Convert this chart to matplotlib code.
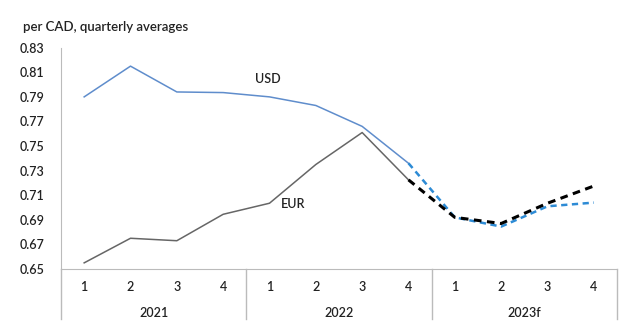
import numpy as np
import matplotlib.pyplot as plt
from matplotlib.transforms import blended_transform_factory

plt.rcParams['font.family'] = ['Lato', 'DejaVu Sans']

quarters = ['1', '2', '3', '4'] * 3
years = ['2021', '2022', '2023f']

usd_hist = [0.790, 0.815, 0.794, 0.7935, 0.790, 0.783, 0.766, 0.736]
eur_hist = [0.655, 0.675, 0.673, 0.6945, 0.7035, 0.735, 0.761, 0.7225]
usd_fcst = [0.736, 0.692, 0.6845, 0.701, 0.704]
eur_fcst = [0.7225, 0.692, 0.687, 0.7035, 0.7175]

x_hist = np.arange(len(usd_hist))
x_fcst = np.arange(len(usd_hist) - 1, len(quarters))

fig = plt.figure(figsize=(6.4, 3.36), dpi=100)
ax = fig.add_axes([61/640, 1-269/336, (617-61)/640, (269-47.7)/336])

ax.plot(x_hist, usd_hist, color='#5f8dcc', lw=1.1)
ax.plot(x_hist, eur_hist, color='#666666', lw=1.1)
ax.plot(x_fcst, usd_fcst, color='#2d8bd5', lw=1.8, ls=(0, (2.5, 1.8)))
ax.plot(x_fcst, eur_fcst, color='black', lw=2.2, ls=(0, (2.5, 1.8)))

ax.set_xlim(-0.5, len(quarters) - 0.5)
ax.set_ylim(0.65, 0.83)
yt = np.arange(0.65, 0.8301, 0.02)
ax.set_yticks(yt)
ax.set_yticklabels([f'{v:.2f}' for v in yt], fontweight='semibold')
ax.tick_params(axis='y', length=0, pad=12, labelsize=9, colors='#222222')
ax.set_xticks([])
for s in ['top', 'right']:
    ax.spines[s].set_visible(False)
ax.spines['left'].set_color('#bbbbbb')
ax.spines['bottom'].set_color('#bbbbbb')

# category axis labels and separators
tr = blended_transform_factory(ax.transData, ax.transAxes)
for i, q in enumerate(quarters):
    ax.text(i, -0.081, q, transform=tr, ha='center', va='center',
            fontsize=9, fontweight='semibold', color='#222222')
for j, yr in enumerate(years):
    ax.text(j * 4 + 1.5, -0.199, yr, transform=tr, ha='center', va='center',
            fontsize=9, fontweight='semibold', color='#222222')
for j in range(len(years) + 1):
    ax.plot([j * 4 - 0.5, j * 4 - 0.5], [0, -0.226], transform=tr,
            color='#bbbbbb', lw=1, clip_on=False)

ax.text(3.97, 0.8045, 'USD', fontsize=9, fontweight='semibold', color='#222222',
        ha='center', va='center')
ax.text(4.5, 0.703, 'EUR', fontsize=9, fontweight='semibold', color='#222222',
        ha='center', va='center')

fig.text(23/640, 1-27/336, 'per CAD, quarterly averages', fontsize=9.5,
         fontweight='semibold', color='#222222', va='center', ha='left')

fig.savefig('out.png', dpi=100)
